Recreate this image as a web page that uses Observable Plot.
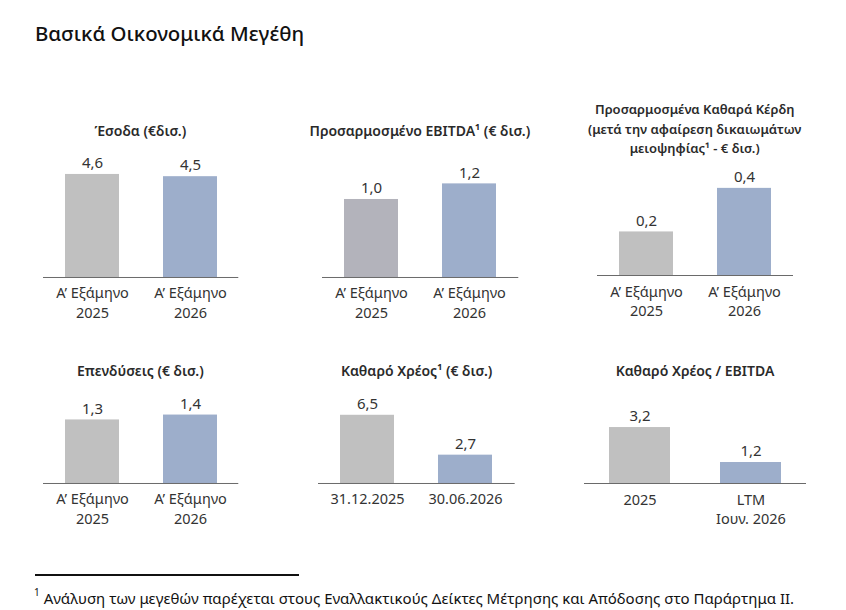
<!DOCTYPE html>
<html>
<head>
<meta charset="utf-8">
<script src="https://cdn.jsdelivr.net/npm/d3@7"></script>
<script src="https://cdn.jsdelivr.net/npm/@observablehq/plot@0.6"></script>
<style>
  html, body { margin: 0; padding: 0; background: #fff; }
  #root { position: relative; width: 846px; height: 610px; overflow: hidden; font-family: "Noto Sans", sans-serif; color: #222; }
  .main-title { position: absolute; left: 35px; top: 19px; font-size: 20.4px; font-weight: 500; color: #111; white-space: nowrap; }
  .ptitle { position: absolute; transform: translateX(-50%); text-align: center; font-weight: 600; color: #2a2a2a; line-height: 19.5px; white-space: nowrap; }
  .panel { position: absolute; }
  .fn-line { position: absolute; left: 35px; top: 574px; width: 264px; height: 2px; background: #111; }
  .footnote { position: absolute; left: 34px; top: 587px; font-size: 15px; color: #111; white-space: nowrap; }
  .footnote sup { font-size: 10px; position: relative; top: -2px; }
</style>
</head>
<body>
<div id="root"></div>
<script>
const chartTitle = "Βασικά Οικονομικά Μεγέθη";
const panelTitles = [
  "Έσοδα (€δισ.)",
  "Προσαρμοσμένο EBITDA¹ (€ δισ.)",
  "Προσαρμοσμένα Καθαρά Κέρδη\n(μετά την αφαίρεση δικαιωμάτων\nμειοψηφίας¹ - € δισ.)",
  "Επενδύσεις (€ δισ.)",
  "Καθαρό Χρέος¹ (€ δισ.)",
  "Καθαρό Χρέος / EBITDA"
];
const categories = [
  ["Α’ Εξάμηνο\n2025", "Α’ Εξάμηνο\n2026"],
  ["Α’ Εξάμηνο\n2025", "Α’ Εξάμηνο\n2026"],
  ["Α’ Εξάμηνο\n2025", "Α’ Εξάμηνο\n2026"],
  ["Α’ Εξάμηνο\n2025", "Α’ Εξάμηνο\n2026"],
  ["31.12.2025", "30.06.2026"],
  ["2025", "LTM\nΙουν. 2026"]
];
const values = [
  [4.6, 4.5],
  [1.0, 1.2],
  [0.2, 0.4],
  [1.3, 1.4],
  [6.5, 2.7],
  [3.2, 1.2]
];
const yMax = [4.91, 1.41, 0.505, 2.25, 10.48, 6.29];
const footnoteText = "Ανάλυση των μεγεθών παρέχεται στους Εναλλακτικούς Δείκτες Μέτρησης και Απόδοσης στο Παράρτημα ΙΙ.";

// styling / layout
const barColors = [
  ["#c0c0c0", "#9daecb"],
  ["#b3b3bb", "#9daecb"],
  ["#c0c0c0", "#9daecb"],
  ["#c0c0c0", "#9daecb"],
  ["#c0c0c0", "#9daecb"],
  ["#c0c0c0", "#9daecb"]
];
const layout = [
  {left: 42.7, width: 195.3, baseline: 277, titleY: 121, titleSize: 14},
  {left: 321.7, width: 196.3, baseline: 277, titleY: 121, titleSize: 14},
  {left: 596.7, width: 196, baseline: 275, titleY: 100, titleSize: 13},
  {left: 42.7, width: 195.3, baseline: 483.3, titleY: 361, titleSize: 14},
  {left: 318.3, width: 196.7, baseline: 483.3, titleY: 361, titleSize: 14},
  {left: 584, width: 222, baseline: 483.3, titleY: 361, titleSize: 14}
];

const root = document.getElementById("root");
const h = document.createElement("div");
h.className = "main-title";
h.textContent = chartTitle;
root.appendChild(h);

const fmt = v => v.toFixed(1).replace(".", ",");
const marginTop = 20, innerH = 110, marginBottom = 50;

panelTitles.forEach((t, i) => {
  const L = layout[i];
  const td = document.createElement("div");
  td.className = "ptitle";
  td.style.left = (L.left + L.width / 2) + "px";
  td.style.top = L.titleY + "px";
  td.style.fontSize = L.titleSize + "px";
  t.split("\n").forEach((line, k) => {
    if (k) td.appendChild(document.createElement("br"));
    td.appendChild(document.createTextNode(line));
  });
  root.appendChild(td);

  const data = categories[i].map((c, j) => ({cat: c, value: values[i][j], color: barColors[i][j]}));
  const chart = Plot.plot({
    width: L.width,
    height: marginTop + innerH + marginBottom,
    marginTop, marginBottom, marginLeft: 0, marginRight: 0,
    style: {fontFamily: "Noto Sans, sans-serif", background: "transparent", overflow: "visible"},
    x: {domain: categories[i], paddingInner: 0.45, paddingOuter: 0.22, label: null},
    y: {domain: [0, yMax[i]], axis: null},
    marks: [
      Plot.barY(data, {x: "cat", y: "value", fill: "color"}),
      Plot.ruleY([0], {stroke: "#6a6a6a", strokeWidth: 1}),
      Plot.text(data, {x: "cat", y: "value", text: d => fmt(d.value), dy: -11, fontSize: 15, fill: "#333"}),
      Plot.axisX({tickSize: 0, tickPadding: 7, fontSize: 14.5, lineHeight: 1.36, fill: "#333", label: null})
    ]
  });
  const wrap = document.createElement("div");
  wrap.className = "panel";
  wrap.style.left = L.left + "px";
  wrap.style.top = (L.baseline - marginTop - innerH) + "px";
  wrap.appendChild(chart);
  root.appendChild(wrap);
});

const ln = document.createElement("div");
ln.className = "fn-line";
root.appendChild(ln);
const fn = document.createElement("div");
fn.className = "footnote";
const sup = document.createElement("sup");
sup.textContent = "1";
fn.appendChild(sup);
fn.appendChild(document.createTextNode(" " + footnoteText));
root.appendChild(fn);
</script>
</body>
</html>
